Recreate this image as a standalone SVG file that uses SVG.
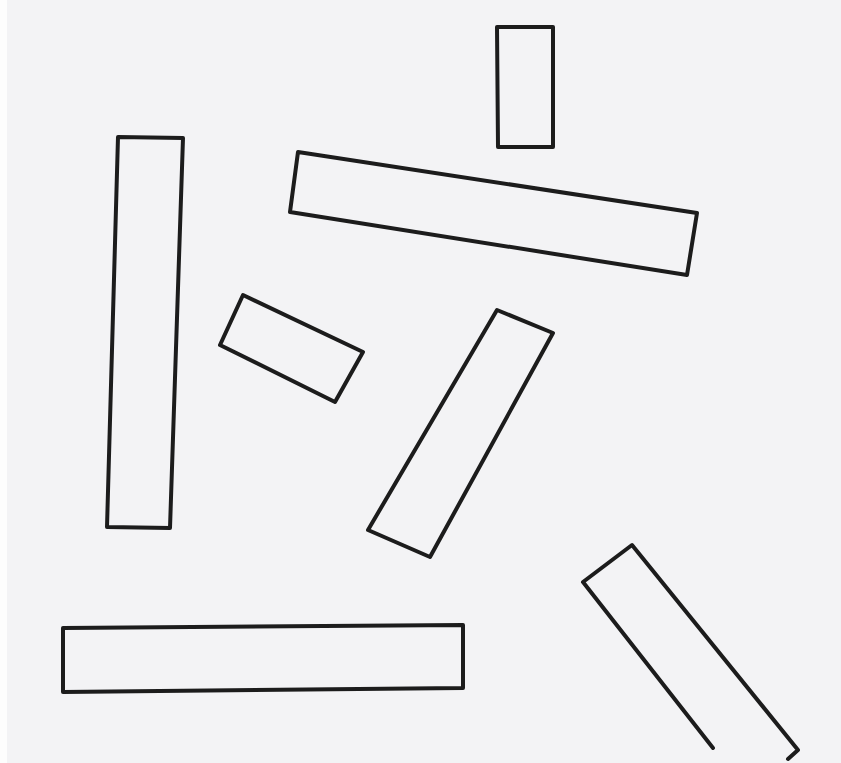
<svg xmlns="http://www.w3.org/2000/svg" width="841" height="763" viewBox="0 0 841 763">
<style>
.r{fill:none;stroke:#1c1c1c;stroke-width:4;stroke-linejoin:round;stroke-linecap:round}
</style>
<rect x="0" y="0" width="841" height="763" fill="#f3f3f5"/>
<rect x="0" y="0" width="7" height="763" fill="#fdfdfd"/>
<g id="rect-top"><polygon class="r" points="497,27 553,27 553,147 498,147"/></g>
<g id="rect-tall"><polygon class="r" points="118,137 183,138 170,528 107,527"/></g>
<g id="rect-long-diag"><polygon class="r" points="298,152 697,213 687,275 290,212"/></g>
<g id="rect-small"><polygon class="r" points="243,295 363,352 335,402 220,345"/></g>
<g id="rect-middle"><polygon class="r" points="497,310 553,333 430,557 368,530"/></g>
<g id="rect-bottom-right"><polyline class="r" points="713,748 583,582 632,545 798,750 788,759"/></g>
<g id="rect-bottom"><polygon class="r" points="63,628 463,625 463,688 63,692"/></g>
</svg>
